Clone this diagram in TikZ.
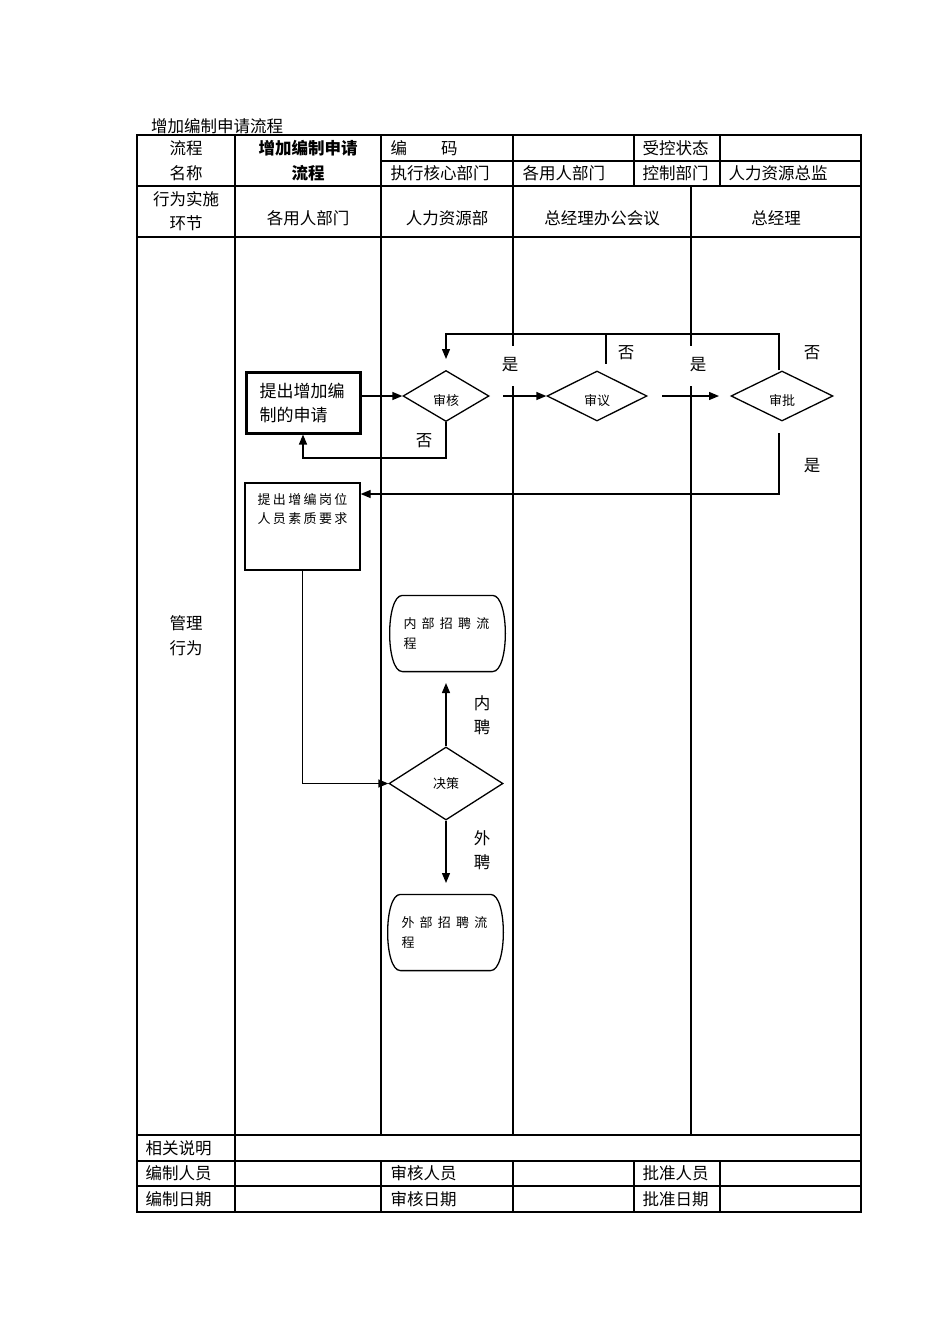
\documentclass[tikz,border=0pt]{standalone}
\usepackage{fontspec}
\setmainfont{Noto Sans CJK SC}
\usetikzlibrary{shapes.geometric, arrows.meta, positioning, calc}

\tikzset{
  txt/.style={inner sep=0pt, font=\fontsize{16.5}{24}\selectfont},
  lbl/.style={inner sep=0pt, font=\fontsize{16.5}{18}\selectfont},
  proc/.style={draw, line width=1.3pt, inner sep=0pt},
  choice/.style={diamond, draw, line width=1.3pt, inner sep=0pt,
    font=\fontsize{13}{15}\selectfont},
  lowtext/.style={text height=20pt, text depth=2pt},
  term/.style={inner sep=0pt,
    minimum width=115pt, minimum height=75pt, align=left, text width=88pt,
    font=\fontsize{13}{20}\selectfont\addfontfeature{LetterSpace=40}},
  flow/.style={line width=1.3pt, -{Triangle[length=10pt,width=8pt]}},
  link/.style={line width=1.3pt}
}
% outline with bulging ends round a term node
\newcommand{\termline}[1]{%
  \draw[link] ([xshift=13pt]#1.north west) -- ([xshift=-13pt]#1.north east)
    .. controls ([xshift=4pt]#1.north east) and ([xshift=4pt]#1.south east) .. ([xshift=-13pt]#1.south east)
    -- ([xshift=13pt]#1.south west)
    .. controls ([xshift=-4pt]#1.south west) and ([xshift=-4pt]#1.north west) .. cycle;}

\begin{document}
\begin{tikzpicture}[x=1pt, y=-1pt, line width=1.2pt]
    \useasboundingbox (0,0) rectangle (950,1344);

    % table frame
    \draw (137,135) rectangle (861,1212);
    \draw (381,161) -- (861,161);
    \foreach \y in {186,237,1135,1161,1186}
        \draw (137,\y) -- (861,\y);
    \draw (235,135) -- (235,1212);
    \draw (381,135) -- (381,1135);
    \draw (381,1161) -- (381,1212);
    \foreach \x in {513,634,720} {
        \draw (\x,1161) -- (\x,1212);
    }
    \draw (513,135) -- (513,237);
    \draw (634,135) -- (634,186);
    \draw (720,135) -- (720,186);

    % lanes
    \draw (513,237) -- (513,346);
    \draw (513,386) -- (513,1135);
    \draw (691,186) -- (691,346);
    \draw (691,386) -- (691,1135);

    % header texts
    \node[txt] (title) at (217,126) {增加编制申请流程};
    \node[txt] (nameA) at (186,148) {流程};
    \node[txt] (nameB) at (186,173) {名称};
    \node[txt, font=\fontsize{16.5}{24}\selectfont\bfseries] (pnameA) at (308,148) {增加编制申请};
    \node[txt, font=\fontsize{16.5}{24}\selectfont\bfseries] (pnameB) at (308,173) {流程};
    \node[txt, anchor=west] (code) at (390,148) {编\hspace{34pt}码};
    \node[txt, anchor=west] (ctrl) at (642,148) {受控状态};
    \node[txt, anchor=west] (exec) at (390,173) {执行核心部门};
    \node[txt, anchor=west] (dept) at (522,173) {各用人部门};
    \node[txt, anchor=west] (ctrldep) at (642,173) {控制部门};
    \node[txt, anchor=west] (hrdir) at (728,173) {人力资源总监};

    \node[txt] (stepA) at (186,199) {行为实施};
    \node[txt] (stepB) at (186,223) {环节};
    \node[txt] (laneA) at (308,218) {各用人部门};
    \node[txt] (laneB) at (447,218) {人力资源部};
    \node[txt] (laneC) at (602,218) {总经理办公会议};
    \node[txt] (laneD) at (776,218) {总经理};

    \node[txt] (mgmtA) at (186,623) {管理};
    \node[txt] (mgmtB) at (186,648) {行为};

    % footer texts
    \node[txt, anchor=west] (note) at (145,1148) {相关说明};
    \node[txt, anchor=west] (mkby) at (145,1173) {编制人员};
    \node[txt, anchor=west] (chkby) at (390,1173) {审核人员};
    \node[txt, anchor=west] (okby) at (642,1173) {批准人员};
    \node[txt, anchor=west] (mkon) at (145,1199) {编制日期};
    \node[txt, anchor=west] (chkon) at (390,1199) {审核日期};
    \node[txt, anchor=west] (okon) at (642,1199) {批准日期};

    % flow nodes
    \node[proc, line width=3pt, minimum width=114pt, minimum height=61pt,
        align=left, text width=87pt, font=\fontsize{17}{24}\selectfont]
        (req) at (303,402.5) {提出增加编\\制的申请};
    \node[choice, lowtext, minimum width=86pt, minimum height=51pt] (shenhe) at (446,396) {审核};
    \node[choice, lowtext, minimum width=100pt, minimum height=50pt] (shenyi) at (597,396) {审议};
    \node[choice, lowtext, minimum width=102pt, minimum height=50pt] (shenpi) at (782,396) {审批};
    \node[proc, minimum width=115pt, minimum height=87pt,
        label={[anchor=north, yshift=-11pt, align=center, inner sep=0pt,
        font=\fontsize{13}{19}\selectfont\addfontfeature{LetterSpace=18}]north:提出增编岗位\\人员素质要求}]
        (spec) at (302.5,526.5) {};
    \node[choice, minimum width=114pt, minimum height=73pt] (juece) at (446,783.5) {决策};
    \node[term] (inner) at (447.5,633.5) {内部招聘流\\程};
    \node[term] (outer) at (445.5,932.5) {外部招聘流\\程};
    \termline{inner}
    \termline{outer}

    % free ends
    \coordinate (nofoot) at (446,458);
    \coordinate (yesA) at (503,396);
    \coordinate (yesB) at (662,396);
    \coordinate (yesBend) at (719,396);
    \coordinate (looptop) at (446,334);
    \coordinate (loopin) at (446,359);
    \coordinate (noA) at (606,334);
    \coordinate (noB) at (606,364);
    \coordinate (pyes) at (779,433);
    \coordinate (pturn) at (779,494);
    \coordinate (innertip) at (446,683);
    \coordinate (outertip) at (446,883);

    % connectors
    \draw[flow] (shenhe.west -| req.east) -- (shenhe.west);
    \draw[flow] (shenhe.south) -- (nofoot) -| (req.south);
    \draw[flow] (yesA) -- (shenyi.west);
    \draw[flow] (yesB) -- (yesBend);
    \draw[flow] (shenpi.north -| pyes) |- (looptop) -- (loopin);
    \draw[link] (noA) -- (noB);
    \draw[flow] (pyes) -- (pturn) -- (spec.east |- pturn);
    \draw[flow] (spec.south) |- (juece.west);
    \draw[flow] (juece.north) -- (innertip);
    \draw[flow] (juece.south) -- (outertip);

    % branch labels
    \node[lbl] (yesLa) at (510,365) {是};
    \node[lbl] (noLa) at (626,353) {否};
    \node[lbl] (yesLb) at (698,365) {是};
    \node[lbl] (noLb) at (812,353) {否};
    \node[lbl] (noLc) at (424,441) {否};
    \node[lbl] (yesLc) at (812,466) {是};
    \node[lbl] (inA) at (482,703) {内};
    \node[lbl] (inB) at (482,727) {聘};
    \node[lbl] (outA) at (482,838) {外};
    \node[lbl] (outB) at (482,862) {聘};
\end{tikzpicture}
\end{document}
